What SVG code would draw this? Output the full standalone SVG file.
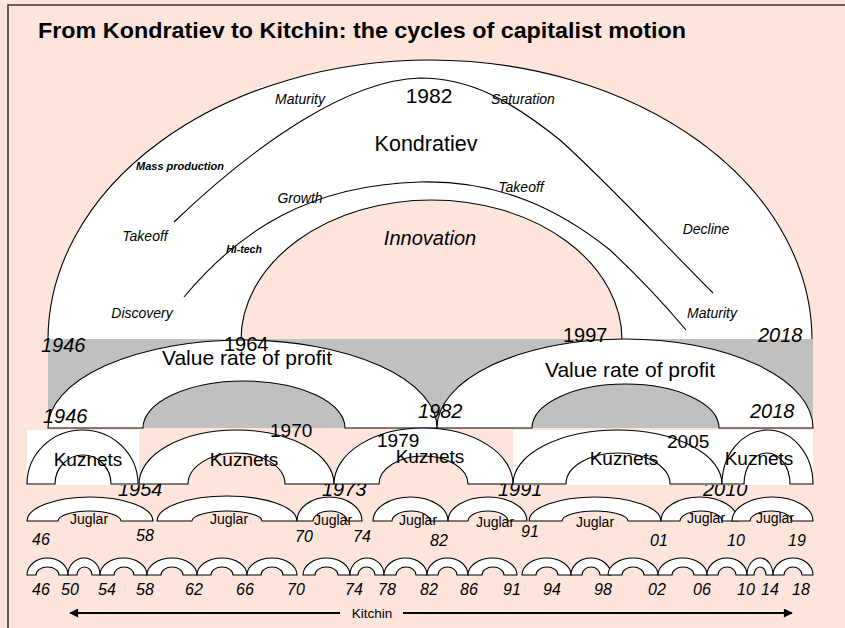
<svg xmlns="http://www.w3.org/2000/svg" width="845" height="628" viewBox="0 0 845 628">
<defs>
<style>
.t{font-family:"Liberation Sans",Arial,sans-serif;fill:#000}
.i{font-style:italic}
.b{font-weight:bold}
.m{text-anchor:middle}
.arch{fill:#fff;stroke:#000;stroke-width:1.1}
.ln{fill:none;stroke:#000;stroke-width:1.1}
.hole{fill:#FDE5DB;stroke:#000;stroke-width:1.1}
</style>
<marker id="ah" viewBox="0 0 10 10" refX="9" refY="5" markerWidth="5" markerHeight="4.5" orient="auto-start-reverse" markerUnits="strokeWidth">
<path d="M0,0 L10,5 L0,10 Z" fill="#000"/>
</marker>
</defs>
<rect x="0" y="0" width="845" height="628" fill="#FDE5DB"/>
<rect x="8" y="5" width="850" height="640" fill="none" stroke="#333" stroke-width="1.5"/>
<text class="t b" x="38" y="38" font-size="22" textLength="648" lengthAdjust="spacingAndGlyphs">From Kondratiev to Kitchin: the cycles of capitalist motion</text>

<g id="kondratiev">
<rect x="257" y="87" width="70" height="20" fill="#fff"/>
<path class="arch" d="M48,340 A382,280 0 0 1 812,340 Z"/>
<path class="hole" d="M241,340 A190.5,140 0 0 1 622,340 Z"/>
<path class="ln" d="M174,222 C260,140 350,80 420,78 C470,78 510,100 560,140 C610,185 660,240 713,293"/>
<path class="ln" d="M184,297 C240,230 310,185 420,182 C500,180 560,210 610,250 C640,278 665,305 686,330"/>
<text class="t m" x="429" y="103" font-size="21">1982</text>
<text class="t i m" x="300" y="104" font-size="14">Maturity</text>
<text class="t i m" x="523" y="104" font-size="14">Saturation</text>
<text class="t m" x="426" y="151" font-size="21.5">Kondratiev</text>
<text class="t b i m" x="180" y="170" font-size="11">Mass production</text>
<text class="t i m" x="145" y="241" font-size="14">Takeoff</text>
<text class="t b i m" x="244" y="253" font-size="10.5">Hi-tech</text>
<text class="t i m" x="300" y="203" font-size="14">Growth</text>
<text class="t i m" x="521" y="192" font-size="14">Takeoff</text>
<text class="t i m" x="430" y="245" font-size="20">Innovation</text>
<text class="t i m" x="706" y="234" font-size="14">Decline</text>
<text class="t i m" x="142" y="318" font-size="14">Discovery</text>
<text class="t i m" x="712" y="318" font-size="14">Maturity</text>
</g>

<g id="value-rate">
<rect x="48" y="339" width="765" height="89" fill="#C0C0C0"/>
<path class="arch" d="M48,428 A194.5,88 0 0 1 437,428 L345,428 A101,47 0 0 0 143,428 Z"/>
<path class="arch" d="M437,428 A188,89 0 0 1 813,428 L719,428 A93.5,44 0 0 0 532,428 Z"/>
<text class="t i" x="41" y="352" font-size="20">1946</text>
<text class="t" x="224" y="351" font-size="20">1964</text>
<text class="t" x="563" y="342" font-size="20">1997</text>
<text class="t i" x="758" y="342" font-size="20">2018</text>
<text class="t m" x="247" y="365" font-size="21">Value rate of profit</text>
<text class="t m" x="630" y="377" font-size="21">Value rate of profit</text>
<text class="t i" x="43" y="423" font-size="20">1946</text>
<text class="t i" x="418" y="418" font-size="20">1982</text>
<text class="t i" x="750" y="418" font-size="20">2018</text>
</g>

<g id="kuznets">
<text class="t i" x="118" y="496" font-size="20">1954</text>
<text class="t i" x="322" y="496" font-size="20">1973</text>
<text class="t i" x="498" y="496" font-size="20">1991</text>
<text class="t i" x="703" y="496" font-size="20">2010</text>
<rect x="27" y="430" width="112" height="55" fill="#fff"/>
<rect x="513" y="430" width="300" height="55" fill="#fff"/>
<path class="arch" d="M27,484 A55.5,54 0 0 1 138,484 L111,484 A28,29 0 0 0 55,484 Z"/>
<path class="arch" d="M139,484 A97.5,54 0 0 1 334,484 L285,484 A48.5,31 0 0 0 188,484 Z"/>
<path class="arch" d="M334,484 A89.5,56 0 0 1 513,484 L468,484 A44.5,28 0 0 0 379,484 Z"/>
<path class="arch" d="M513,484 A104.5,54 0 0 1 722,484 L670,484 A52,31 0 0 0 566,484 Z"/>
<path class="arch" d="M722,484 A45.5,54 0 0 1 813,484 L790,484 A23,31 0 0 0 744,484 Z"/>
<text class="t" x="270" y="437" font-size="19">1970</text>
<text class="t" x="377" y="447" font-size="19">1979</text>
<text class="t" x="667" y="448" font-size="19">2005</text>
<text class="t m" x="88" y="466" font-size="19">Kuznets</text>
<text class="t m" x="244" y="466" font-size="19">Kuznets</text>
<text class="t m" x="430" y="463" font-size="19">Kuznets</text>
<text class="t m" x="624" y="465" font-size="19">Kuznets</text>
<text class="t m" x="759" y="465" font-size="19">Kuznets</text>
</g>

<g id="juglar">
<path class="arch" d="M27,521 A63,24 0 0 1 153,521 L121,521 A31.5,10 0 0 0 58,521 Z"/>
<path class="arch" d="M157,521 A70,25 0 0 1 297,521 L262,521 A35,10 0 0 0 192,521 Z"/>
<path class="arch" d="M297,521 A32.5,24 0 0 1 362,521 L347,521 A17,10 0 0 0 313,521 Z"/>
<path class="arch" d="M373,521 A37.5,24 0 0 1 448,521 L430,521 A19,10 0 0 0 392,521 Z"/>
<path class="arch" d="M448,521 A39.5,24 0 0 1 527,521 L508,521 A20,10 0 0 0 468,521 Z"/>
<path class="arch" d="M529,521 A66,24 0 0 1 661,521 L628,521 A33,10 0 0 0 562,521 Z"/>
<path class="arch" d="M661,521 A38.5,24 0 0 1 738,521 L722,521 A21,10 0 0 0 680,521 Z"/>
<path class="arch" d="M732,521 A40.5,24 0 0 1 813,521 L792,521 A21,10 0 0 0 750,521 Z"/>
<text class="t m" x="89" y="524" font-size="14">Juglar</text>
<text class="t m" x="229" y="524" font-size="14">Juglar</text>
<text class="t m" x="333" y="525" font-size="14">Juglar</text>
<text class="t m" x="418" y="525" font-size="14">Juglar</text>
<text class="t m" x="495" y="527" font-size="14">Juglar</text>
<text class="t m" x="595" y="527" font-size="14">Juglar</text>
<text class="t m" x="706" y="523" font-size="14">Juglar</text>
<text class="t m" x="775" y="523" font-size="14">Juglar</text>
<text class="t i" x="32" y="545" font-size="16">46</text>
<text class="t i" x="136" y="541" font-size="16">58</text>
<text class="t i" x="295" y="542" font-size="16">70</text>
<text class="t i" x="353" y="542" font-size="16">74</text>
<text class="t i" x="430" y="546" font-size="16">82</text>
<text class="t i" x="521" y="537" font-size="16">91</text>
<text class="t i" x="650" y="546" font-size="16">01</text>
<text class="t i" x="727" y="546" font-size="16">10</text>
<text class="t i" x="788" y="546" font-size="16">19</text>
</g>

<g id="kitchin">
<path class="arch" d="M27,575 A20.5,17 0 0 1 68,575 L59,575 A11.5,8 0 0 0 36,575 Z"/>
<path class="arch" d="M68,575 A16,17 0 0 1 100,575 L92,575 A7.5,8 0 0 0 77,575 Z"/>
<path class="arch" d="M100,575 A23.5,17 0 0 1 147,575 L134,575 A10,8 0 0 0 114,575 Z"/>
<path class="arch" d="M147,575 A25,17 0 0 1 197,575 L183,575 A11,8 0 0 0 161,575 Z"/>
<path class="arch" d="M197,575 A25,17 0 0 1 247,575 L233,575 A11,8 0 0 0 211,575 Z"/>
<path class="arch" d="M247,575 A25,17 0 0 1 297,575 L283,575 A11,8 0 0 0 261,575 Z"/>
<path class="arch" d="M303,575 A23.5,17 0 0 1 350,575 L338,575 A11.5,8 0 0 0 315,575 Z"/>
<path class="arch" d="M350,575 A17,17 0 0 1 384,575 L375,575 A8.5,8 0 0 0 358,575 Z"/>
<path class="arch" d="M384,575 A21.5,17 0 0 1 427,575 L416,575 A10,8 0 0 0 396,575 Z"/>
<path class="arch" d="M427,575 A20.5,17 0 0 1 468,575 L457,575 A9.5,8 0 0 0 438,575 Z"/>
<path class="arch" d="M468,575 A24.5,17 0 0 1 517,575 L504,575 A11,8 0 0 0 482,575 Z"/>
<path class="arch" d="M522,575 A24.5,17 0 0 1 571,575 L558,575 A11,8 0 0 0 536,575 Z"/>
<path class="arch" d="M571,575 A20,17 0 0 1 611,575 L600,575 A9,8 0 0 0 582,575 Z"/>
<path class="arch" d="M608,575 A25,17 0 0 1 658,575 L644,575 A11,8 0 0 0 622,575 Z"/>
<path class="arch" d="M658,575 A24.5,17 0 0 1 707,575 L694,575 A11,8 0 0 0 672,575 Z"/>
<path class="arch" d="M707,575 A20,17 0 0 1 747,575 L736,575 A9,8 0 0 0 718,575 Z"/>
<path class="arch" d="M747,575 A13,17 0 0 1 773,575 L766,575 A6,8 0 0 0 754,575 Z"/>
<path class="arch" d="M773,575 A20,17 0 0 1 813,575 L802,575 A9,8 0 0 0 784,575 Z"/>
<text class="t i m" x="41" y="595" font-size="16">46</text>
<text class="t i m" x="70" y="595" font-size="16">50</text>
<text class="t i m" x="107" y="595" font-size="16">54</text>
<text class="t i m" x="145" y="595" font-size="16">58</text>
<text class="t i m" x="194" y="595" font-size="16">62</text>
<text class="t i m" x="245" y="595" font-size="16">66</text>
<text class="t i m" x="296" y="595" font-size="16">70</text>
<text class="t i m" x="354" y="595" font-size="16">74</text>
<text class="t i m" x="387" y="595" font-size="16">78</text>
<text class="t i m" x="429" y="595" font-size="16">82</text>
<text class="t i m" x="469" y="595" font-size="16">86</text>
<text class="t i m" x="512" y="595" font-size="16">91</text>
<text class="t i m" x="552" y="595" font-size="16">94</text>
<text class="t i m" x="603" y="595" font-size="16">98</text>
<text class="t i m" x="657" y="595" font-size="16">02</text>
<text class="t i m" x="702" y="595" font-size="16">06</text>
<text class="t i m" x="746" y="595" font-size="16">10</text>
<text class="t i m" x="770" y="595" font-size="16">14</text>
<text class="t i m" x="801" y="595" font-size="16">18</text>
<text class="t m" x="372" y="618" font-size="13.5">Kitchin</text>
</g>

<g id="connectors">
<line x1="340" y1="613" x2="70" y2="613" stroke="#000" stroke-width="2" marker-end="url(#ah)"/>
<line x1="403" y1="613" x2="792" y2="613" stroke="#000" stroke-width="2" marker-end="url(#ah)"/>
</g>
</svg>
